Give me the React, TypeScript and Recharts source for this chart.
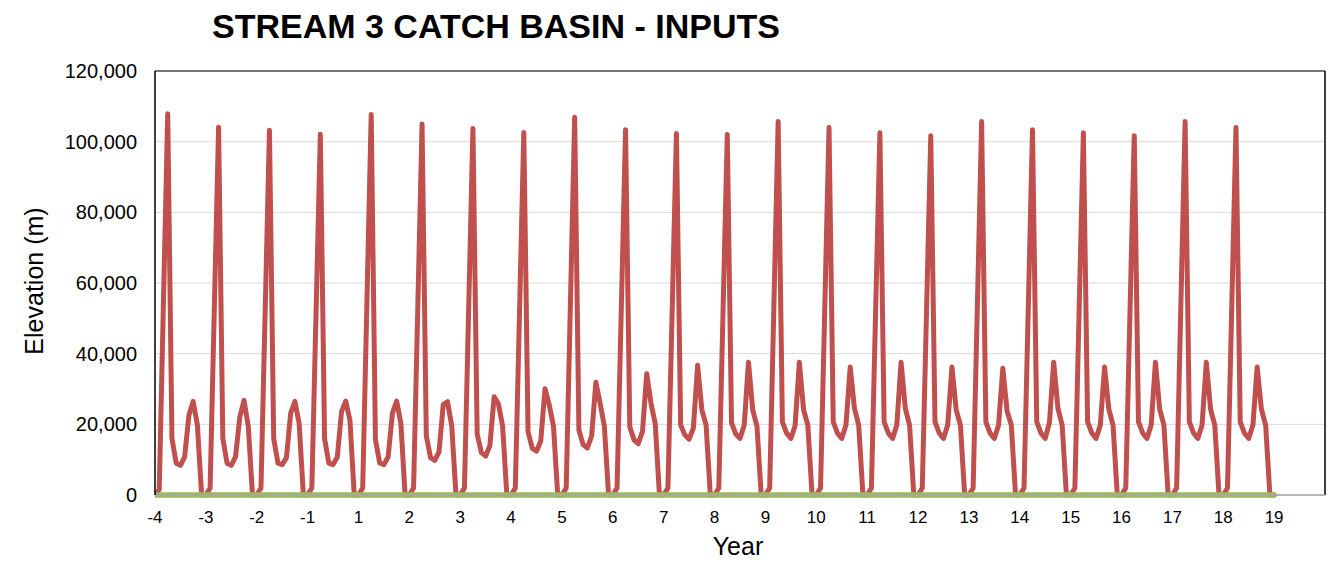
import { LineChart, Line, XAxis, YAxis, CartesianGrid, Label, ReferenceLine } from "recharts";

// year tick labels (there is no year 0 in the source sheet)
const yearLabels = [
  "-4", "-3", "-2", "-1", "1", "2", "3", "4", "5", "6", "7", "8",
  "9", "10", "11", "12", "13", "14", "15", "16", "17", "18", "19",
];

const yTicks = [0, 20000, 40000, 60000, 80000, 100000, 120000];

// monthly inputs, one row per year (-4 .. 18)
const redByYear: number[][] = [
  [0, 1500, 55000, 107900, 16000, 9000, 8400, 10800, 22600, 26500, 19800, 0],
  [0, 2000, 53000, 104100, 16000, 9000, 8400, 10800, 22000, 26800, 19500, 0],
  [0, 2000, 52500, 103200, 16000, 9000, 8600, 10500, 23100, 26500, 20300, 0],
  [0, 2000, 52000, 102100, 16000, 9000, 8600, 10700, 23600, 26600, 21000, 0],
  [0, 2000, 55000, 107700, 15700, 9100, 8600, 10800, 23100, 26600, 20300, 0],
  [0, 2000, 53500, 105000, 16700, 10600, 9800, 12200, 25600, 26400, 19600, 0],
  [0, 2000, 53000, 103700, 17200, 12000, 11000, 14000, 27800, 25800, 19500, 0],
  [0, 2000, 52300, 102600, 17900, 13200, 12400, 15300, 30100, 25500, 19500, 0],
  [0, 2000, 54500, 106900, 18400, 14200, 13300, 16700, 31900, 26000, 19500, 0],
  [0, 2000, 52700, 103400, 19300, 15600, 14500, 18000, 34300, 26000, 20200, 0],
  [0, 2000, 52200, 102300, 19800, 17000, 15800, 18900, 36700, 24100, 19800, 0],
  [0, 2000, 52000, 102000, 20400, 17300, 16000, 19800, 37600, 24100, 19500, 0],
  [0, 2000, 53800, 105700, 20700, 17500, 16000, 19600, 37600, 24100, 19800, 0],
  [0, 2000, 53000, 104000, 20700, 17500, 16000, 19800, 36200, 24500, 19800, 0],
  [0, 2000, 52200, 102500, 20700, 17500, 16000, 19800, 37600, 24500, 19800, 0],
  [0, 2000, 51800, 101700, 20700, 17500, 16000, 19800, 36200, 24100, 19800, 0],
  [0, 2000, 53800, 105700, 20700, 17500, 16000, 19800, 35900, 23800, 19800, 0],
  [0, 2000, 52700, 103400, 20700, 17500, 16000, 20500, 37600, 24500, 19800, 0],
  [0, 2000, 52200, 102500, 20700, 17500, 16000, 19800, 36200, 24300, 19800, 0],
  [0, 2000, 51800, 101700, 20700, 17500, 16000, 19800, 37600, 24300, 19800, 0],
  [0, 2000, 53800, 105700, 20700, 17500, 16000, 19800, 37600, 24300, 19800, 0],
  [0, 2000, 53000, 104000, 20700, 17500, 16000, 19800, 36200, 24300, 19800, 0],
];
const lastRed = 0;

// the other two inputs sit flat on zero
const blueLevel = 0;
const greenLevel = 0;

const months = 12;

const data: { t: number; blue: number; red: number; green: number }[] = [];
redByYear.forEach((row, y) =>
  row.forEach((v, m) =>
    data.push({ t: y * months + m, blue: blueLevel, red: v, green: greenLevel })
  )
);
data.push({ t: redByYear.length * months, blue: blueLevel, red: lastRed, green: greenLevel });

const xTicks = yearLabels.map((_, i) => i * months);
const xMax = yearLabels.length * months;
const yMax = 120000;

const font = "Arial, 'Liberation Sans', sans-serif";

export default function App() {
  return (
    <div
      style={{
        position: "absolute",
        left: 0,
        top: 0,
        width: 1330,
        height: 563,
        background: "#fff",
        fontFamily: font,
      }}
    >
      <div
        style={{
          position: "absolute",
          left: 212,
          top: 8,
          fontSize: 34,
          fontWeight: "bold",
          lineHeight: "36px",
          color: "#000",
          whiteSpace: "nowrap",
        }}
      >
        STREAM 3 CATCH BASIN - INPUTS
      </div>
      <LineChart
        width={1330}
        height={563}
        data={data}
        margin={{ top: 71, right: 5, bottom: 0, left: 0 }}
        style={{ fontFamily: font }}
      >
        <CartesianGrid vertical={false} stroke="#D9D9D9" strokeWidth={1} />
        <XAxis
          dataKey="t"
          type="number"
          domain={[0, xMax]}
          ticks={xTicks}
          tickFormatter={(v: number) => yearLabels[Math.round(v / months)]}
          interval={0}
          allowDataOverflow
          height={68}
          tickLine={false}
          axisLine={{ stroke: "#A6A6A6", strokeWidth: 1.5 }}
          tick={{ fill: "#000", fontSize: 17 }}
          tickMargin={10}
        >
          <Label
            content={() => (
              <text x={738} y={555} textAnchor="middle" fontSize={25} fill="#000" fontFamily={font}>
                Year
              </text>
            )}
          />
        </XAxis>
        <YAxis
          domain={[0, yMax]}
          ticks={yTicks}
          width={155}
          tickLine={false}
          axisLine={{ stroke: "#000", strokeWidth: 1.5 }}
          tick={{ fill: "#000", fontSize: 20 }}
          tickMargin={12}
          tickFormatter={(v: number) => v.toLocaleString("en-US")}
        >
          <Label
            content={() => (
              <text
                x={43}
                y={281}
                transform="rotate(-90 43 281)"
                textAnchor="middle"
                fontSize={25}
                fill="#000"
                fontFamily={font}
              >
                Elevation (m)
              </text>
            )}
          />
        </YAxis>
        {/* plot-area frame: top and right edges */}
        <ReferenceLine y={yMax} stroke="#000" strokeWidth={1} ifOverflow="visible" />
        <ReferenceLine x={xMax} stroke="#000" strokeWidth={1.5} ifOverflow="visible" />
        <Line
          dataKey="blue"
          stroke="#4F81BD"
          strokeWidth={2}
          dot={false}
          isAnimationActive={false}
        />
        <Line
          dataKey="red"
          stroke="#C0504D"
          strokeWidth={5}
          strokeLinejoin="round"
          strokeLinecap="round"
          dot={false}
          isAnimationActive={false}
        />
        <Line
          dataKey="green"
          stroke="#9BBB59"
          strokeWidth={5.5}
          strokeLinecap="round"
          dot={false}
          isAnimationActive={false}
        />
      </LineChart>
    </div>
  );
}
